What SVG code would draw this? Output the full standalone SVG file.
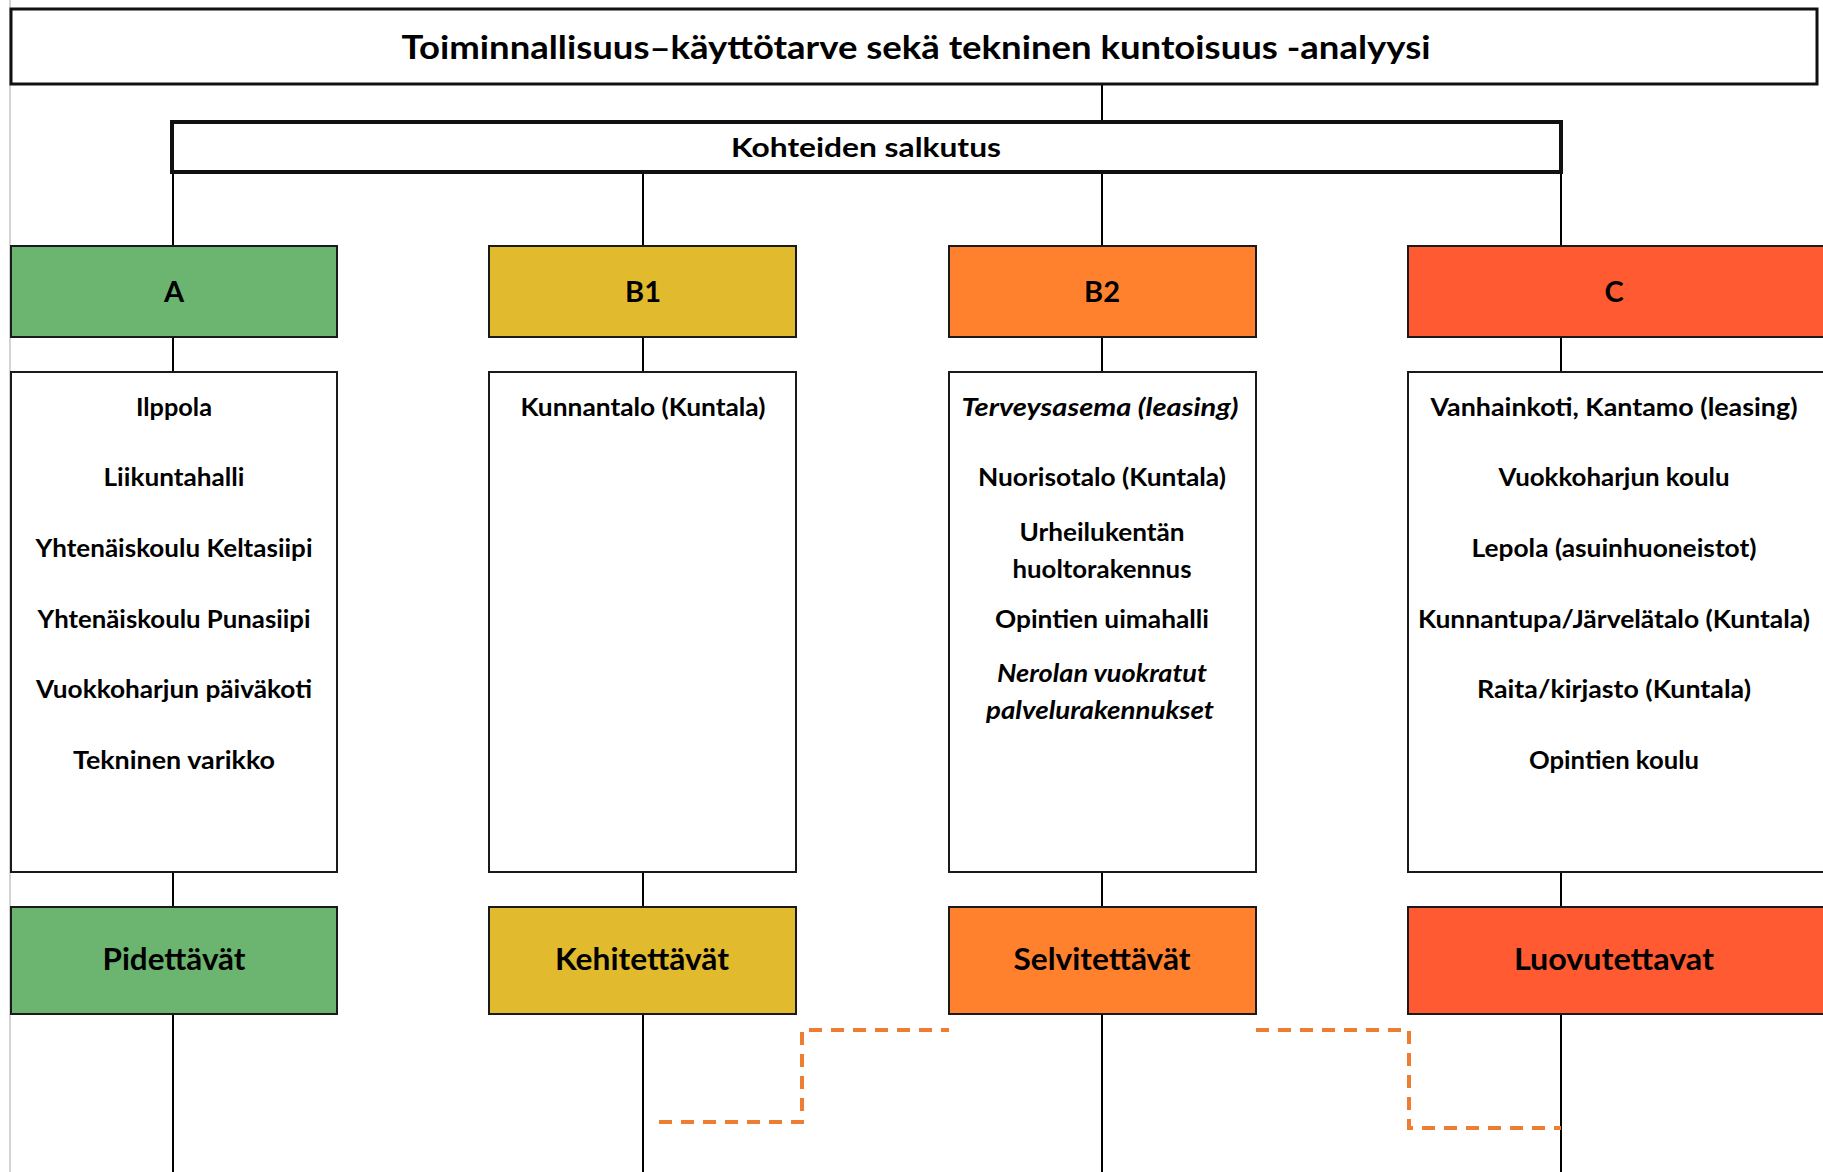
<svg xmlns="http://www.w3.org/2000/svg" width="1823" height="1172" viewBox="0 0 1823 1172">
<style>
text{font-family:Lato,"Liberation Sans",sans-serif;font-weight:bold;fill:#000;text-anchor:middle}
.box{stroke:#1a1a1a;stroke-width:2}
.item{font-size:25px}
.it{font-style:italic}
.cat{font-size:29px}
.lbl{font-size:30px}
.conn{stroke:#000;stroke-width:2;fill:none}
.dash{stroke:#ED7D31;stroke-width:4;fill:none;stroke-dasharray:13 9}
.g{fill:#6BB570}.y{fill:#E2BA2E}.o{fill:#FF812E}.r{fill:#FF5A31}.w{fill:#fff}
</style>
<rect width="1823" height="1172" fill="#fff"/>
<line x1="10" y1="0" x2="10" y2="1172" stroke="#d4d4d4" stroke-width="2"/>
<g id="connectors">
<path class="conn" d="M1102,84V122"/>
<path class="conn" d="M173,172V246M643,172V246M1102,172V246M1561,172V246"/>
<path class="conn" d="M173,337V372M643,337V372M1102,337V372M1561,337V372"/>
<path class="conn" d="M173,872V907M643,872V907M1102,872V907M1561,872V907"/>
<path class="conn" d="M173,1014V1172M643,1014V1172M1102,1014V1172M1561,1014V1172"/>
<path class="dash" d="M659,1122H802V1030H949"/>
<path class="dash" d="M1256,1030H1409V1128H1561"/>
</g>
<g id="title">
<rect x="11" y="9" width="1806" height="75" fill="#fff" stroke="#111" stroke-width="3"/>
<text x="916" y="59" font-size="32" textLength="1029" lengthAdjust="spacingAndGlyphs">Toiminnallisuus–käyttötarve sekä tekninen kuntoisuus -analyysi</text>
</g>
<g id="salkutus">
<rect x="172" y="122" width="1389" height="50" fill="#fff" stroke="#111" stroke-width="4"/>
<text x="866" y="157" font-size="27" textLength="270" lengthAdjust="spacingAndGlyphs">Kohteiden salkutus</text>
</g>
<g id="cat-A"><rect class="box g" x="11" y="246" width="326" height="91"/><text class="cat" x="174" y="302">A</text></g>
<g id="cat-B1"><rect class="box y" x="489" y="246" width="307" height="91"/><text class="cat" x="643" y="302">B1</text></g>
<g id="cat-B2"><rect class="box o" x="949" y="246" width="307" height="91"/><text class="cat" x="1102" y="302">B2</text></g>
<g id="cat-C"><rect class="box r" x="1408" y="246" width="420" height="91"/><text class="cat" x="1614" y="302">C</text></g>
<g id="list-A">
<rect class="box w" x="11" y="372" width="326" height="500"/>
<text class="item" x="174" y="416" textLength="76" lengthAdjust="spacingAndGlyphs">Ilppola</text>
<text class="item" x="174" y="486" textLength="141" lengthAdjust="spacingAndGlyphs">Liikuntahalli</text>
<text class="item" x="174" y="557" textLength="277" lengthAdjust="spacingAndGlyphs">Yhtenäiskoulu Keltasiipi</text>
<text class="item" x="174" y="628" textLength="273" lengthAdjust="spacingAndGlyphs">Yhtenäiskoulu Punasiipi</text>
<text class="item" x="174" y="698" textLength="276" lengthAdjust="spacingAndGlyphs">Vuokkoharjun päiväkoti</text>
<text class="item" x="174" y="769" textLength="202" lengthAdjust="spacingAndGlyphs">Tekninen varikko</text>
</g>
<g id="list-B1">
<rect class="box w" x="489" y="372" width="307" height="500"/>
<text class="item" x="643" y="416" textLength="245" lengthAdjust="spacingAndGlyphs">Kunnantalo (Kuntala)</text>
</g>
<g id="list-B2">
<rect class="box w" x="949" y="372" width="307" height="500"/>
<text class="item it" x="1100" y="416" textLength="277" lengthAdjust="spacingAndGlyphs">Terveysasema (leasing)</text>
<text class="item" x="1102" y="486" textLength="248" lengthAdjust="spacingAndGlyphs">Nuorisotalo (Kuntala)</text>
<text class="item" x="1102" y="541" textLength="165" lengthAdjust="spacingAndGlyphs">Urheilukentän</text>
<text class="item" x="1102" y="578" textLength="179" lengthAdjust="spacingAndGlyphs">huoltorakennus</text>
<text class="item" x="1102" y="628" textLength="214" lengthAdjust="spacingAndGlyphs">Opintien uimahalli</text>
<text class="item it" x="1102" y="682" textLength="210" lengthAdjust="spacingAndGlyphs">Nerolan vuokratut</text>
<text class="item it" x="1100" y="719" textLength="228" lengthAdjust="spacingAndGlyphs">palvelurakennukset</text>
</g>
<g id="list-C">
<rect class="box w" x="1408" y="372" width="420" height="500"/>
<text class="item" x="1614" y="416" textLength="367" lengthAdjust="spacingAndGlyphs">Vanhainkoti, Kantamo (leasing)</text>
<text class="item" x="1614" y="486" textLength="231" lengthAdjust="spacingAndGlyphs">Vuokkoharjun koulu</text>
<text class="item" x="1614" y="557" textLength="285" lengthAdjust="spacingAndGlyphs">Lepola (asuinhuoneistot)</text>
<text class="item" x="1614" y="628" textLength="392" lengthAdjust="spacingAndGlyphs">Kunnantupa/Järvelätalo (Kuntala)</text>
<text class="item" x="1614" y="698" textLength="274" lengthAdjust="spacingAndGlyphs">Raita/kirjasto (Kuntala)</text>
<text class="item" x="1614" y="769" textLength="170" lengthAdjust="spacingAndGlyphs">Opintien koulu</text>
</g>
<g id="out-A"><rect class="box g" x="11" y="907" width="326" height="107"/><text class="lbl" x="174" y="970" textLength="143" lengthAdjust="spacingAndGlyphs">Pidettävät</text></g>
<g id="out-B1"><rect class="box y" x="489" y="907" width="307" height="107"/><text class="lbl" x="642" y="970" textLength="174" lengthAdjust="spacingAndGlyphs">Kehitettävät</text></g>
<g id="out-B2"><rect class="box o" x="949" y="907" width="307" height="107"/><text class="lbl" x="1102" y="970" textLength="177" lengthAdjust="spacingAndGlyphs">Selvitettävät</text></g>
<g id="out-C"><rect class="box r" x="1408" y="907" width="420" height="107"/><text class="lbl" x="1614" y="970" textLength="200" lengthAdjust="spacingAndGlyphs">Luovutettavat</text></g>
</svg>
